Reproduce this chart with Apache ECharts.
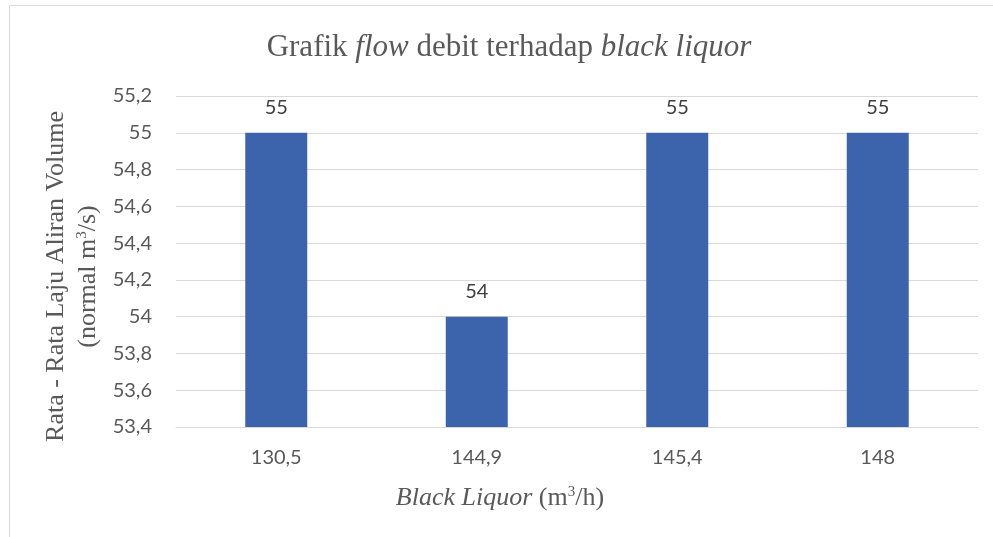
<!DOCTYPE html>
<html><head><meta charset="utf-8">
<script src="https://cdn.jsdelivr.net/npm/echarts@6/dist/echarts.min.js"></script>
<style>html,body{margin:0;padding:0;background:#fff}#c{width:993px;height:537px}</style>
</head><body><div id="c"></div>
<script>
const categories = ['130,5', '144,9', '145,4', '148'];
const values = [55, 54, 55, 55];
const yMin = 53.4, yMax = 55.2, yStep = 0.2;

const chart = echarts.init(document.getElementById('c'));
const fmt = v => String(Math.round(v * 10) / 10).replace('.', ',');
const sans = 'Lato, "Open Sans", sans-serif';
const serif = '"Liberation Serif", "DejaVu Serif", serif';
chart.setOption({
  animation: false,
  graphic: [{ type: 'rect', shape: { x: 9.5, y: 5.5, width: 1000, height: 600 }, style: { fill: 'none', stroke: '#d9d9d9', lineWidth: 1 } }],
  title: {
    text: '{n|Grafik }{i|flow}{n| debit terhadap }{i|black liquor}',
    left: 504, top: 27, textAlign: 'center',
    textStyle: { fontWeight: 'normal', rich: {
      n: { fontFamily: serif, fontSize: 31, color: '#595959', fontWeight: 'normal' },
      i: { fontFamily: serif, fontSize: 31, color: '#595959', fontStyle: 'italic', fontWeight: 'normal' }
    } }
  },
  grid: { left: 176, right: 15, top: 96, bottom: 110, containLabel: false },
  xAxis: {
    type: 'category', data: categories,
    axisLine: { lineStyle: { color: '#d9d9d9', width: 1 } },
    axisTick: { show: false },
    axisLabel: { color: '#595959', fontFamily: sans, fontSize: 20, margin: 21 },
    name: '{i|Black Liquor}{n| (m}{s|3}{n|/h)}', nameLocation: 'middle', nameGap: 58,
    nameTextStyle: { padding: [0, 0, 0, -154], rich: {
      i: { fontFamily: serif, fontSize: 26, color: '#595959', fontStyle: 'italic' },
      n: { fontFamily: serif, fontSize: 26, color: '#595959' },
      s: { fontFamily: serif, fontSize: 15, color: '#595959', padding: [0, 0, 12, 0] }
    } }
  },
  yAxis: {
    type: 'value', min: yMin, max: yMax, interval: yStep,
    axisLine: { show: false }, axisTick: { show: false },
    splitLine: { lineStyle: { color: '#d9d9d9', width: 1 } },
    axisLabel: { color: '#595959', fontFamily: sans, fontSize: 20, margin: 24, formatter: fmt },
    name: '{n|Rata - Rata Laju Aliran Volume}\n{n|(normal m}{s|3}{n|/s)}',
    nameLocation: 'middle', nameRotate: 90, nameGap: 69,
    nameTextStyle: { align: 'center', padding: [0, 30, 0, 0], rich: {
      n: { fontFamily: serif, fontSize: 26, color: '#595959', lineHeight: 32 },
      s: { fontFamily: serif, fontSize: 15, color: '#595959', lineHeight: 32, padding: [0, 0, 12, 0] }
    } }
  },
  series: [{
    type: 'bar', data: values, barWidth: 62,
    itemStyle: { color: '#3C64AC' },
    label: { show: true, position: 'top', distance: 15, color: '#404040', fontFamily: sans, fontSize: 20, formatter: p => fmt(p.value) }
  }]
});
</script></body></html>
